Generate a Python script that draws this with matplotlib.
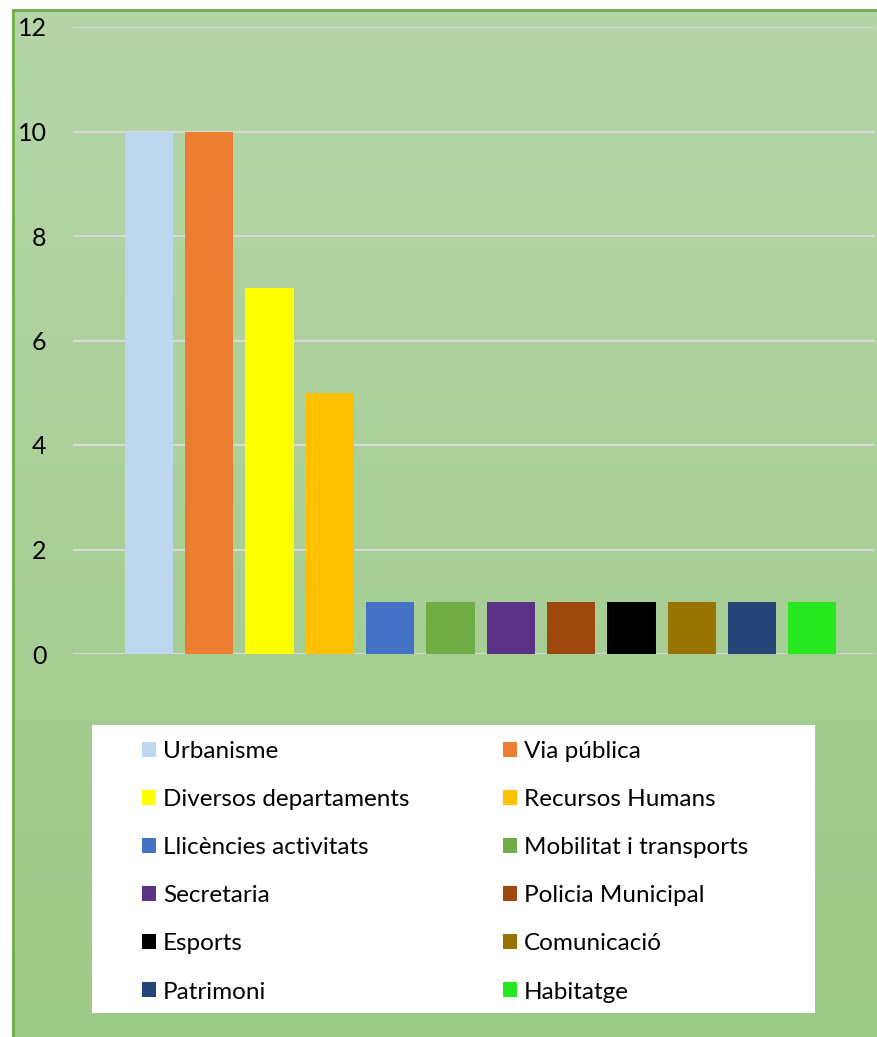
import numpy as np
import matplotlib
matplotlib.use("Agg")
import matplotlib.pyplot as plt
from matplotlib.patches import Rectangle

# datos
categorias = ["Urbanisme", "Via pública", "Diversos departaments", "Recursos Humans",
              "Llicències activitats", "Mobilitat i transports", "Secretaria",
              "Policia Municipal", "Esports", "Comunicació", "Patrimoni", "Habitatge"]
valores = [10, 10, 7, 5, 1, 1, 1, 1, 1, 1, 1, 1]
colores = ["#BDD7EE", "#ED7D31", "#FFFF00", "#FFC000", "#4472C4", "#70AD47",
           "#5B3286", "#9E480E", "#000000", "#997300", "#264478", "#27E81F"]
yticks = [0, 2, 4, 6, 8, 10, 12]

W, H = 878, 1037
plt.rcParams['font.family'] = ['Lato', 'DejaVu Sans']

fig = plt.figure(figsize=(W / 100, H / 100), dpi=100)
fig.patch.set_facecolor("white")

def fx(px):
    return px / W

def fy(py):
    return (H - py) / H

# fondo con degradado
bg = fig.add_axes([fx(13), 0, 1 - fx(13), fy(10)])
grad = np.linspace(0, 1, 256).reshape(-1, 1)
cmap = matplotlib.colors.LinearSegmentedColormap.from_list("g", ["#b6d6a9", "#9dc986"])
bg.imshow(grad, aspect="auto", cmap=cmap, extent=[0, 1, 0, 1], origin="upper")
bg.set_xticks([])
bg.set_yticks([])
for k, sp in bg.spines.items():
    sp.set_color("#70ad47")
    sp.set_linewidth(2)
bg.spines["bottom"].set_visible(False)
bg.set_zorder(0)

# grafico
ax = fig.add_axes([fx(73), fy(654), fx(875) - fx(73), fy(27) - fy(654)])
ax.set_zorder(1)
ax.patch.set_alpha(0)
x = np.arange(len(categorias))
barras = ax.bar(x, valores, width=0.8, color=colores, zorder=3, label=categorias)
ax.set_ylim(0, 12)
ax.set_xlim(-1.26, 12.04)
ax.set_yticks(yticks)
ax.set_yticklabels([str(v) for v in yticks], fontsize=18)
ax.tick_params(axis="y", length=0, pad=19)
ax.set_xticks([])
ax.grid(axis="y", color="#d9d9d9", linewidth=1.5, zorder=1)
for sp in ax.spines.values():
    sp.set_visible(False)

# leyenda
fig.patches.append(Rectangle((fx(92), fy(1013)), fx(815) - fx(92), fy(725) - fy(1013),
                             transform=fig.transFigure, facecolor="white",
                             edgecolor="none", zorder=2))
handles = list(barras.patches)
col1 = [0, 2, 4, 6, 8, 10]
col2 = [1, 3, 5, 7, 9, 11]
leg_kw = dict(frameon=False, fontsize=17.5, handlelength=0.58, handleheight=0.58,
              handletextpad=0.29, labelspacing=1.115, borderpad=0, borderaxespad=0,
              loc="upper left")
leg1 = fig.legend([handles[i] for i in col1], [categorias[i] for i in col1],
                  bbox_to_anchor=(fx(142), fy(741)), **leg_kw)
leg2 = fig.legend([handles[i] for i in col2], [categorias[i] for i in col2],
                  bbox_to_anchor=(fx(503), fy(741)), **leg_kw)
leg1.set_zorder(5)
leg2.set_zorder(5)

fig.savefig("out.png", dpi=100)
